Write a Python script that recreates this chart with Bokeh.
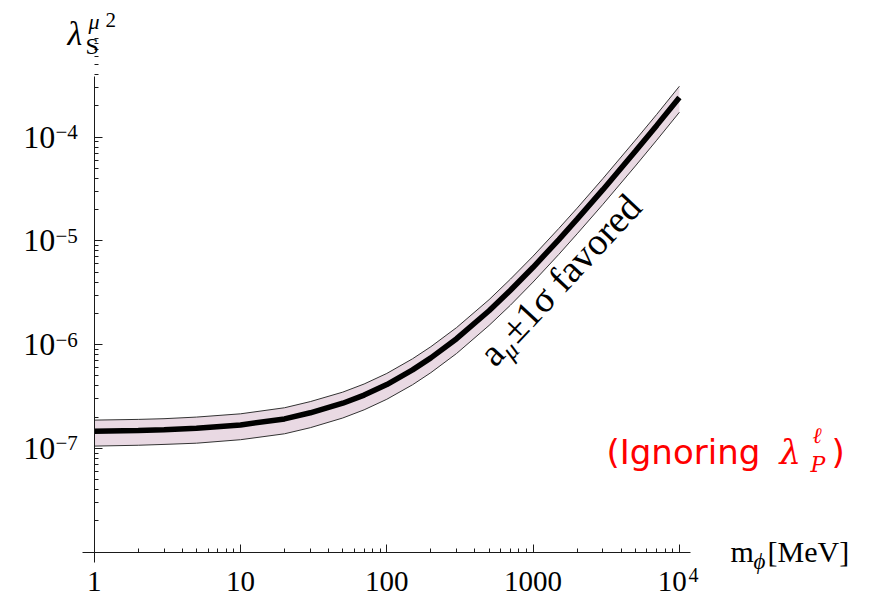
import math
from bokeh.plotting import figure
from bokeh.models import Range1d, FixedTicker, CustomJSTickFormatter, Label
from bokeh.embed import file_html
from bokeh.resources import INLINE

# ---- data (m_phi in MeV, lambda^2) ----
mass = [1, 2, 3, 5, 10, 20, 30, 50, 70, 100, 150, 200, 300, 500, 700, 1000, 1500,
        2000, 3000, 5000, 7000, 10000]
central = [1.46e-7, 1.485e-7, 1.51e-7, 1.56e-7, 1.68e-7, 1.92e-7, 2.2e-7, 2.72e-7, 3.26e-7,
           4.12e-7, 5.7e-7, 7.45e-7, 1.14e-6, 2.12e-6, 3.34e-6, 5.57e-6, 1.03e-5,
           1.62e-5, 3.12e-5, 7.32e-5, 1.30e-4, 2.42e-4]
upper = [1.87e-7, 1.90e-7, 1.93e-7, 2.00e-7, 2.15e-7, 2.46e-7, 2.82e-7, 3.48e-7, 4.17e-7,
         5.27e-7, 7.30e-7, 9.54e-7, 1.46e-6, 2.71e-6, 4.28e-6, 7.13e-6, 1.32e-5,
         2.07e-5, 3.99e-5, 9.37e-5, 1.66e-4, 3.10e-4]
lower = [1.05e-7, 1.07e-7, 1.09e-7, 1.12e-7, 1.21e-7, 1.38e-7, 1.58e-7, 1.96e-7, 2.35e-7,
         2.97e-7, 4.10e-7, 5.36e-7, 8.21e-7, 1.53e-6, 2.40e-6, 4.01e-6, 7.42e-6,
         1.17e-5, 2.25e-5, 5.27e-5, 9.36e-5, 1.74e-4]
x_ticks = [1, 10, 100, 1000, 10000]
y_ticks = [1e-7, 1e-6, 1e-5, 1e-4]

# ---- layout: the frame covers the whole canvas, axes sit at fixed locations ----
W, H = 870, 600
PPX, X1_PX = 146.3, 93.7          # px per decade, pixel of m = 1
PPY, Y4_PX = 103.7, 136.7         # px per decade, pixel of 1e-4
XS = 10 ** (-X1_PX / PPX)
XE = 10 ** ((W - X1_PX) / PPX)
YE = 10 ** (-4 + Y4_PX / PPY)
YS = 10 ** (-4 - (H - Y4_PX) / PPY)


def px2x(px):
    return 10 ** (math.log10(XS) + px / PPX)


def py2y(py):
    return 10 ** (math.log10(YE) - py / PPY)


p = figure(width=W, height=H, x_axis_type="log", y_axis_type="log",
           x_range=Range1d(XS, XE), y_range=Range1d(YS, YE),
           output_backend="svg", toolbar_location=None,
           min_border_left=0, min_border_right=0, min_border_top=0, min_border_bottom=0)
p.outline_line_color = None
p.xgrid.visible = False
p.ygrid.visible = False
p.background_fill_color = "white"
p.border_fill_color = "white"

# x labels: plain numbers, the 10^4 label gets its exponent as a separate text
xfmt = CustomJSTickFormatter(code="""
const e = Math.round(Math.log10(tick));
if (e < 4) { return String(Math.round(tick)); }
return '10\\u2002';
""")
yfmt = CustomJSTickFormatter(code="return '10';")

x_minor = [k * 10 ** e for e in range(0, 4) for k in range(2, 10)]
y_minor = [k * 10.0 ** e for e in range(-8, -3) for k in range(2, 10)]

x_bounds = (px2x(82), px2x(690))
y_bounds = (py2y(562), py2y(76))

for ax, tk, mn, fmt, loc, bnd in ((p.xaxis[0], x_ticks, x_minor, xfmt, 1e-8, x_bounds),
                                  (p.yaxis[0], y_ticks, y_minor, yfmt, 1, y_bounds)):
    ax.fixed_location = loc
    ax.bounds = bnd
    ax.ticker = FixedTicker(ticks=tk, minor_ticks=mn)
    ax.formatter = fmt
    ax.axis_line_color = "#1a1a1a"
    ax.axis_line_width = 1
    ax.major_tick_line_color = "#1a1a1a"
    ax.minor_tick_line_color = "#1a1a1a"
    ax.major_tick_in = 8
    ax.major_tick_out = 0
    ax.minor_tick_in = 4
    ax.minor_tick_out = 0
    ax.major_label_text_font = "Liberation Serif"
    ax.major_label_text_color = "black"
p.xaxis[0].major_label_text_font_size = "29px"
p.yaxis[0].major_label_text_font_size = "32px"
p.xaxis[0].major_label_standoff = 13
p.yaxis[0].major_label_standoff = 39

# ---- band and central curve ----
p.varea(x=mass, y1=lower, y2=upper, fill_color="#E9D9E3")
p.line(mass, upper, line_color="#333333", line_width=1)
p.line(mass, lower, line_color="#333333", line_width=1)
p.line(mass, central, line_color="black", line_width=5.5)

SHIFT = 0.35  # baseline correction in em


def lab(text, px, py, size, font="Liberation Serif", style="normal", color="black",
        angle=0, align="left"):
    a = math.radians(angle)
    px -= SHIFT * size * math.sin(a)
    py -= SHIFT * size * math.cos(a)
    p.add_layout(Label(x=px2x(px), y=py2y(py), text=text, text_font=font,
                       text_font_size=f"{size}px", text_font_style=style, text_color=color,
                       text_baseline="alphabetic", text_align=align,
                       angle=angle, angle_units="deg"))


# exponents of the tick labels
for t in y_ticks:
    e = round(math.log10(t))
    p.add_layout(Label(x=px2x(55), y=t, y_offset=5, text="\u2212" + str(-e),
                       text_font="Liberation Serif", text_font_size="21px",
                       text_baseline="middle", text_align="left", text_color="black"))
e_last = round(math.log10(x_ticks[-1]))
lab(str(e_last), 688, 581, 20)

# y axis label  lambda_S^{mu 2}
lab("λ", 67, 45, 34, style="italic")
lab("S", 85, 54, 24)
lab("μ", 88, 29, 22, style="italic")
lab("2", 105, 27, 21)

# x axis label  m_phi [MeV]
lab("m", 730, 561, 30)
lab("ϕ", 753, 569, 23, style="italic")
lab("[MeV]", 767, 561, 30)

# rotated annotation along the band
ang = 47
ux, uy = math.cos(math.radians(ang)), -math.sin(math.radians(ang))
dx, dy = math.sin(math.radians(ang)), math.cos(math.radians(ang))
bx, by = 495, 368
lab("a", bx, by, 38, angle=ang)
lab("μ", bx + 17 * ux + 7 * dx, by + 17 * uy + 7 * dy, 25, style="italic", angle=ang)
lab("±1σ favored", bx + 32 * ux, by + 32 * uy, 38, angle=ang)

# red note
red = "#FF0000"
lab("(Ignoring", 606, 463, 34, font="DejaVu Sans", color=red)
lab("λ", 779, 463, 34, font="DejaVu Serif", style="italic", color=red)
lab("ℓ", 812, 443, 22, font="DejaVu Serif", style="italic", color=red)
lab("P", 810, 472, 22, font="DejaVu Serif", style="italic", color=red)
lab(")", 831, 463, 34, font="DejaVu Sans", color=red)

open("out.html", "w").write(file_html(p, INLINE))
